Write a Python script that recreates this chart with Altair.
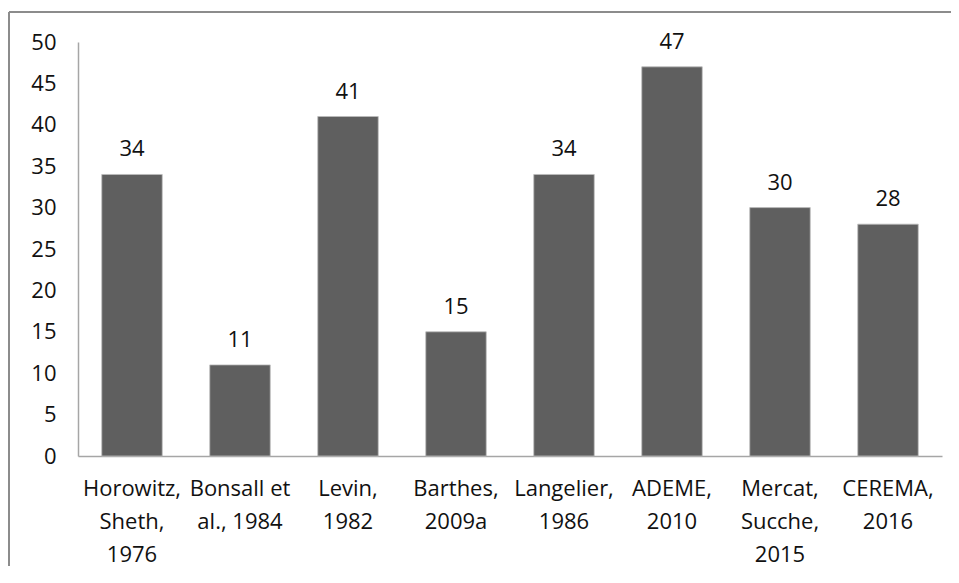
import altair as alt
import pandas as pd

categories = [
    ["Horowitz,", "Sheth,", "1976"],
    ["Bonsall et", "al., 1984"],
    ["Levin,", "1982"],
    ["Barthes,", "2009a"],
    ["Langelier,", "1986"],
    ["ADEME,", "2010"],
    ["Mercat,", "Sucche,", "2015"],
    ["CEREMA,", "2016"],
]
values = [34, 11, 41, 15, 34, 47, 30, 28]
y_ticks = [0, 5, 10, 15, 20, 25, 30, 35, 40, 45, 50]

keys = ["\n".join(c) for c in categories]
df = pd.DataFrame({"cat": keys, "value": values, "order": list(range(len(values)))})

FONT = "Open Sans"

x = alt.X(
    "cat:N",
    sort=keys,
    title=None,
    scale=alt.Scale(paddingInner=0.44, paddingOuter=0.22),
    axis=alt.Axis(
        labelAngle=0,
        labelExpr="split(datum.label, '\\n')",
        labelFontSize=22,
        labelFont=FONT,
        labelColor="#111111",
        labelLineHeight=33,
        labelPadding=22,
        labelBaseline="top",
        ticks=False,
        domainColor="#a6a6a6",
        domainWidth=1.5,
        grid=False,
    ),
)
y = alt.Y(
    "value:Q",
    title=None,
    scale=alt.Scale(domain=[0, 50], nice=False),
    axis=alt.Axis(
        values=y_ticks,
        labelFontSize=22,
        labelFont=FONT,
        labelColor="#111111",
        labelPadding=22,
        ticks=False,
        domainColor="#a6a6a6",
        domainWidth=1.5,
        grid=False,
    ),
)

bars = alt.Chart(df).mark_bar(color="#5f5f5f", stroke="#bdbdbd", strokeWidth=0.8).encode(x=x, y=y)
labels = alt.Chart(df).mark_text(
    dy=-18, baseline="alphabetic", fontSize=22, font=FONT, color="#111111"
).encode(x=alt.X("cat:N", sort=keys), y="value:Q", text="value:Q")

border_top = alt.Chart(pd.DataFrame({"a": [0]})).mark_rule(
    stroke="#8c8c8c", strokeWidth=2
).encode(
    x=alt.value(-69), x2=alt.value(1000), y=alt.value(-30)
)
border_left = alt.Chart(pd.DataFrame({"a": [0]})).mark_rule(
    stroke="#8c8c8c", strokeWidth=2
).encode(
    x=alt.value(-69), y=alt.value(-30), y2=alt.value(700)
)

chart = alt.layer(border_top, border_left, bars, labels).properties(
    width=864,
    height=414,
    background="white",
    padding={"left": 70, "top": 34, "right": 9, "bottom": 110},
    autosize=alt.AutoSizeParams(type="none"),
).configure_view(strokeWidth=0, stroke="transparent")

chart.save("out.html", embed_options={"renderer": "svg", "actions": False})
